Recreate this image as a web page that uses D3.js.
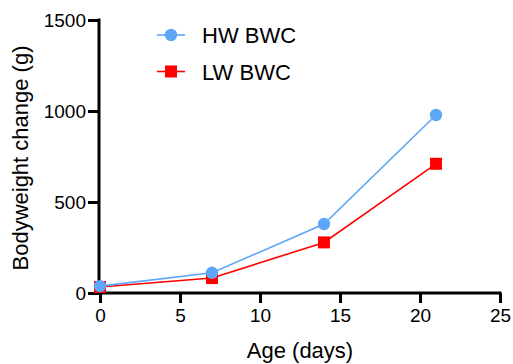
<!DOCTYPE html>
<html>
<head>
<meta charset="utf-8">
<script src="https://cdn.jsdelivr.net/npm/d3@7"></script>
<style>
  html, body { margin: 0; padding: 0; background: #fff; }
  svg { display: block; font-family: "Liberation Sans", Arial, sans-serif; }
</style>
</head>
<body>
<svg id="chart" width="513" height="364"></svg>
<script>
// Bodyweight change by age, two groups
const ageDays = [0, 7, 14, 21];
const hwBwc = [38, 111, 379, 978];
const lwBwc = [33, 82, 278, 710];
const xTicks = [0, 5, 10, 15, 20, 25];
const yTicks = [0, 500, 1000, 1500];
const seriesNames = ["HW BWC", "LW BWC"];
const seriesColors = ["#5EA6F7", "#FF0000"];

const svg = d3.select("#chart");
const x = d3.scaleLinear().domain([0, 25]).range([100, 500]);
const y = d3.scaleLinear().domain([0, 1500]).range([293, 20]);

const axisW = 3;

// x axis
const gx = svg.append("g").attr("transform", "translate(0,293)")
  .call(d3.axisBottom(x).tickValues(xTicks).tickSize(10).tickPadding(6).tickFormat(d3.format("d")));
gx.select(".domain").attr("d", `M${x(0) - 1},0H${x(25) + 1.5}`).attr("stroke", "#000").attr("stroke-width", axisW);
gx.selectAll(".tick line").attr("stroke", "#000").attr("stroke-width", axisW);
gx.selectAll(".tick text").attr("font-size", 19).attr("fill", "#000").attr("font-family", "Liberation Sans, Arial, sans-serif");

// y axis
const gy = svg.append("g").attr("transform", "translate(99,0)")
  .call(d3.axisLeft(y).tickValues(yTicks).tickSize(11).tickPadding(2).tickFormat(d3.format("d")));
gy.select(".domain").attr("d", `M0,${y(1500) - 1.5}V${y(0) + 1.5}`).attr("stroke", "#000").attr("stroke-width", axisW);
gy.selectAll(".tick line").attr("stroke", "#000").attr("stroke-width", axisW);
gy.selectAll(".tick text").attr("font-size", 19).attr("fill", "#000").attr("font-family", "Liberation Sans, Arial, sans-serif");

// axis titles
svg.append("text").attr("x", 300).attr("y", 358).attr("text-anchor", "middle")
  .attr("font-size", 22).attr("fill", "#000").text("Age (days)");
svg.append("text").attr("transform", "translate(28,158) rotate(-90)").attr("text-anchor", "middle")
  .attr("font-size", 22).attr("fill", "#000").text("Bodyweight change (g)");

const line = d3.line().x(d => x(d[0])).y(d => y(d[1]));
const seriesData = [hwBwc, lwBwc].map(vals => ageDays.map((a, i) => [a, vals[i]]));

// LW drawn first, HW on top
[1, 0].forEach(s => {
  const g = svg.append("g");
  g.append("path").datum(seriesData[s]).attr("d", line)
    .attr("fill", "none").attr("stroke", seriesColors[s]).attr("stroke-width", 1.6);
  if (s === 0) {
    g.selectAll("circle").data(seriesData[s]).join("circle")
      .attr("cx", d => x(d[0])).attr("cy", d => y(d[1])).attr("r", 6.2).attr("fill", seriesColors[s]);
  } else {
    g.selectAll("rect").data(seriesData[s]).join("rect")
      .attr("x", d => x(d[0]) - 6).attr("y", d => y(d[1]) - 6)
      .attr("width", 12).attr("height", 12).attr("fill", seriesColors[s]);
  }
});

// legend
const legend = svg.append("g");
seriesNames.forEach((name, i) => {
  const cy = 35 + i * 36.5;
  legend.append("line").attr("x1", 157).attr("x2", 185).attr("y1", cy).attr("y2", cy)
    .attr("stroke", seriesColors[i]).attr("stroke-width", 1.6);
  if (i === 0) {
    legend.append("circle").attr("cx", 171).attr("cy", cy).attr("r", 6.2).attr("fill", seriesColors[i]);
  } else {
    legend.append("rect").attr("x", 165).attr("y", cy - 6).attr("width", 12).attr("height", 12).attr("fill", seriesColors[i]);
  }
  legend.append("text").attr("x", 202).attr("y", cy + 8).attr("font-size", 22).attr("fill", "#000").text(name);
});
</script>
</body>
</html>
